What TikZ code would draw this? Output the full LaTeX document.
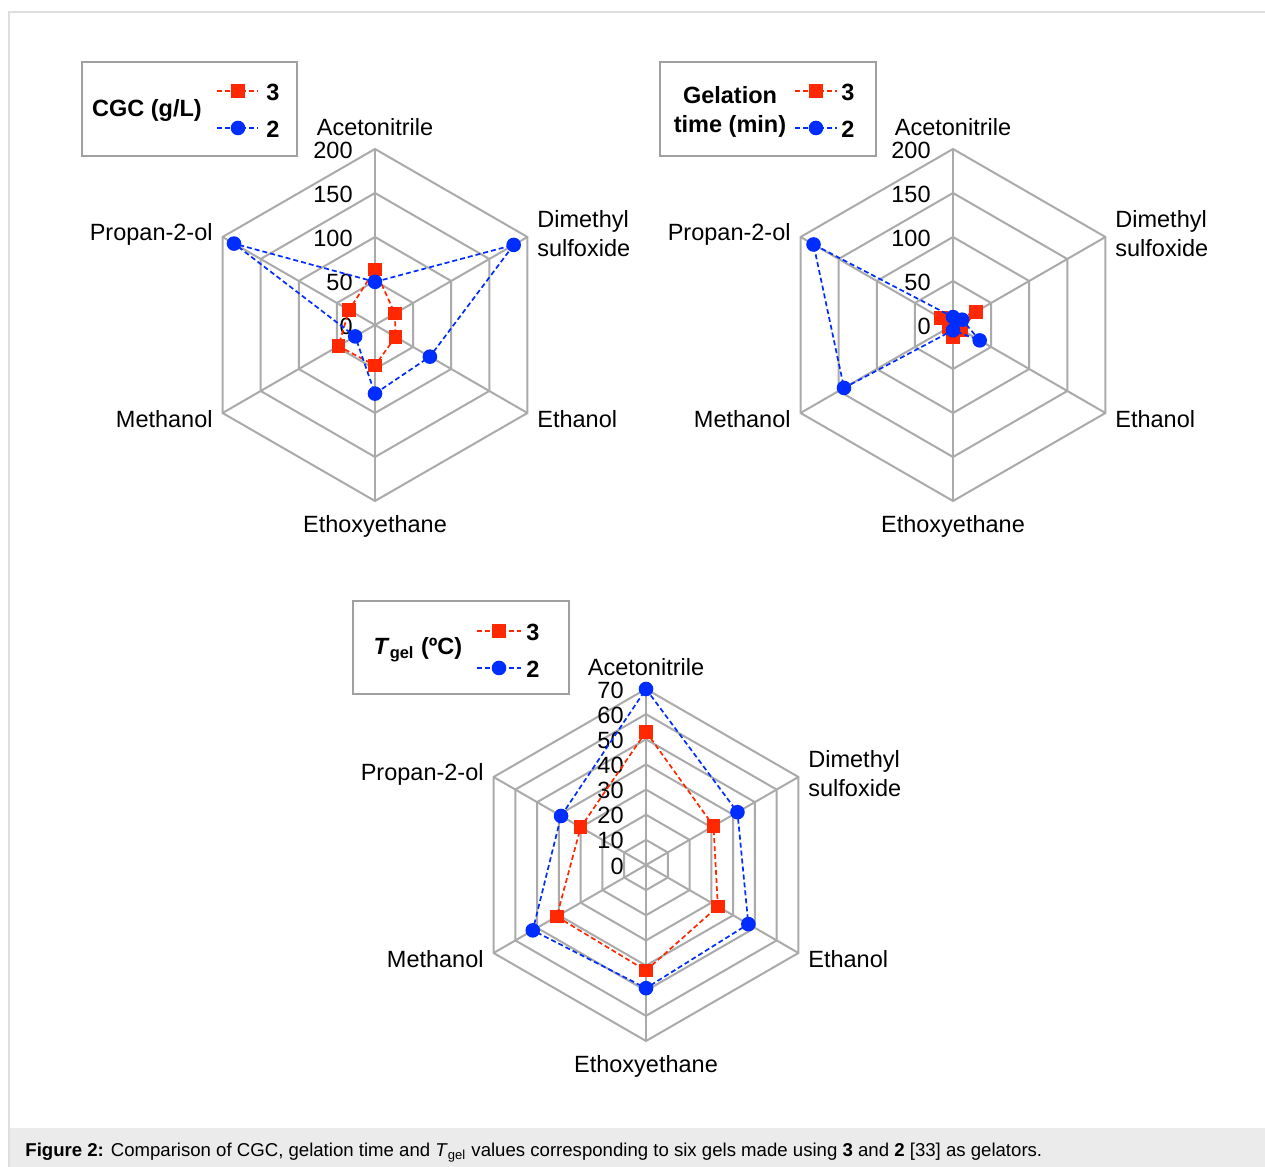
\documentclass[tikz,border=0pt]{standalone}
\usepackage{fontspec}
\setmainfont{Liberation Sans}
\usepackage{amsmath}
\usetikzlibrary{math}
\definecolor{gridgray}{RGB}{170,170,170}
\definecolor{boxgray}{RGB}{160,160,160}
\definecolor{framegray}{RGB}{222,222,222}
\definecolor{capgray}{RGB}{235,235,235}
\definecolor{serred}{RGB}{255,40,0}
\definecolor{serblue}{RGB}{0,45,255}

\begin{document}
\begin{tikzpicture}[x=0.5pt, y=0.5pt,
    every node/.style={font=\fontsize{11.75}{14.5}\selectfont},
    ringline/.style={draw=gridgray, line width=1pt},
    legbox/.style={draw=boxgray, line width=0.8pt},
    ticklab/.style={anchor=east, inner sep=0pt},
    solvent/.style={inner sep=0pt, align=left},
    legtitle/.style={inner sep=0pt, align=center, font=\fontsize{11.75}{14.5}\selectfont\bfseries},
    legnum/.style={inner sep=0pt, font=\fontsize{11.75}{14.5}\selectfont\bfseries},
    serthree/.style={draw=serred, line width=0.85pt, dash pattern=on 2.5pt off 1.5pt},
    sertwo/.style={draw=serblue, line width=0.85pt, dash pattern=on 2.5pt off 1.5pt},
    markthree/.style={rectangle, fill=serred, inner sep=0pt, minimum size=6.8pt},
    marktwo/.style={circle, fill=serblue, inner sep=0pt, minimum size=7.3pt}]
  \tikzmath{\R = 176; \scalea = \R/200; \scaleb = \R/70; \stepa = \R/4; \stepb = \R/7;}
  \useasboundingbox (0,0) rectangle (1265,1167);
  \fill[capgray] (9,0) rectangle (1265,39);
  \draw[framegray, line width=0.8pt] (9,0) -- (9,1155) -- (1265,1155);
  \node[anchor=west, inner sep=0pt, font=\fontsize{9.3}{11}\selectfont] (caption) at (25,14)
    {\textbf{Figure 2:} Comparison of CGC, gelation time and \textit{T}\textsubscript{gel} values corresponding to six gels made using \textbf{3} and \textbf{2} [33] as gelators.};

  \begin{scope}[shift={(375,842)}]
    \foreach \r in {1,...,4}
      \draw[ringline] (90:\r*\stepa) -- (30:\r*\stepa) -- (-30:\r*\stepa) -- (-90:\r*\stepa) -- (-150:\r*\stepa) -- (150:\r*\stepa) -- cycle;
    \foreach \a in {90,30,-30,-90,-150,150}
      \draw[ringline] (0,0) -- (\a:\R);
    \foreach \v [count=\i from 0] in {0,50,100,150,200}
      \node[ticklab] (cgc-t\i) at (-22,\i*\stepa-1) {\v};
    \node[solvent] (cgc-acn) at (0,198) {Acetonitrile};
    \node[solvent, anchor=west] (cgc-dmso) at (162,91) {Dimethyl\\sulfoxide};
    \node[solvent, anchor=west] (cgc-etoh) at (162,-94) {Ethanol};
    \node[solvent] (cgc-eth) at (0,-201) {Ethoxyethane};
    \node[solvent, anchor=east] (cgc-meoh) at (-162,-94) {Methanol};
    \node[solvent, anchor=east] (cgc-ipa) at (-162,91) {Propan-2-ol};
    \foreach \v [count=\i] in {63,26,27,46,48,34}
      \coordinate (cgc3-\i) at ({150-60*\i}:\v*\scalea);
    \foreach \v [count=\i] in {49,182,72,78,26,185}
      \coordinate (cgc2-\i) at ({150-60*\i}:\v*\scalea);
    \draw[serthree] (cgc3-1) -- (cgc3-2) -- (cgc3-3) -- (cgc3-4) -- (cgc3-5) -- (cgc3-6) -- cycle;
    \foreach \i in {1,...,6}
      \node[markthree] (cgc3m\i) at (cgc3-\i) {};
    \draw[sertwo] (cgc2-1) -- (cgc2-2) -- (cgc2-3) -- (cgc2-4) -- (cgc2-5) -- (cgc2-6) -- cycle;
    \foreach \i in {1,...,6}
      \node[marktwo] (cgc2m\i) at (cgc2-\i) {};
  \end{scope}

  \begin{scope}[shift={(953,842)}]
    \foreach \r in {1,...,4}
      \draw[ringline] (90:\r*\stepa) -- (30:\r*\stepa) -- (-30:\r*\stepa) -- (-90:\r*\stepa) -- (-150:\r*\stepa) -- (150:\r*\stepa) -- cycle;
    \foreach \a in {90,30,-30,-90,-150,150}
      \draw[ringline] (0,0) -- (\a:\R);
    \foreach \v [count=\i from 0] in {0,50,100,150,200}
      \node[ticklab] (gt-t\i) at (-22,\i*\stepa-1) {\v};
    \node[solvent] (gt-acn) at (0,198) {Acetonitrile};
    \node[solvent, anchor=west] (gt-dmso) at (162,91) {Dimethyl\\sulfoxide};
    \node[solvent, anchor=west] (gt-etoh) at (162,-94) {Ethanol};
    \node[solvent] (gt-eth) at (0,-201) {Ethoxyethane};
    \node[solvent, anchor=east] (gt-meoh) at (-162,-94) {Methanol};
    \node[solvent, anchor=east] (gt-ipa) at (-162,91) {Propan-2-ol};
    \foreach \v [count=\i] in {6,30,11,14,6,16}
      \coordinate (gt3-\i) at ({150-60*\i}:\v*\scalea);
    \foreach \v [count=\i] in {9,12,35,6,143,183}
      \coordinate (gt2-\i) at ({150-60*\i}:\v*\scalea);
    \draw[serthree] (gt3-1) -- (gt3-2) -- (gt3-3) -- (gt3-4) -- (gt3-5) -- (gt3-6) -- cycle;
    \foreach \i in {1,...,6}
      \node[markthree] (gt3m\i) at (gt3-\i) {};
    \draw[sertwo] (gt2-1) -- (gt2-2) -- (gt2-3) -- (gt2-4) -- (gt2-5) -- (gt2-6) -- cycle;
    \foreach \i in {1,...,6}
      \node[marktwo] (gt2m\i) at (gt2-\i) {};
  \end{scope}

  \begin{scope}[shift={(646,302)}]
    \foreach \r in {1,...,7}
      \draw[ringline] (90:\r*\stepb) -- (30:\r*\stepb) -- (-30:\r*\stepb) -- (-90:\r*\stepb) -- (-150:\r*\stepb) -- (150:\r*\stepb) -- cycle;
    \foreach \a in {90,30,-30,-90,-150,150}
      \draw[ringline] (0,0) -- (\a:\R);
    \foreach \v [count=\i from 0] in {0,10,20,30,40,50,60,70}
      \node[ticklab] (tg-t\i) at (-22,\i*\stepb-1) {\v};
    \node[solvent] (tg-acn) at (0,198) {Acetonitrile};
    \node[solvent, anchor=west] (tg-dmso) at (162,91) {Dimethyl\\sulfoxide};
    \node[solvent, anchor=west] (tg-etoh) at (162,-94) {Ethanol};
    \node[solvent] (tg-eth) at (0,-201) {Ethoxyethane};
    \node[solvent, anchor=east] (tg-meoh) at (-162,-94) {Methanol};
    \node[solvent, anchor=east] (tg-ipa) at (-162,91) {Propan-2-ol};
    \foreach \v [count=\i] in {53,31,33,42,41,30}
      \coordinate (tg3-\i) at ({150-60*\i}:\v*\scaleb);
    \foreach \v [count=\i] in {70,42,47,49,52,39}
      \coordinate (tg2-\i) at ({150-60*\i}:\v*\scaleb);
    \draw[serthree] (tg3-1) -- (tg3-2) -- (tg3-3) -- (tg3-4) -- (tg3-5) -- (tg3-6) -- cycle;
    \foreach \i in {1,...,6}
      \node[markthree] (tg3m\i) at (tg3-\i) {};
    \draw[sertwo] (tg2-1) -- (tg2-2) -- (tg2-3) -- (tg2-4) -- (tg2-5) -- (tg2-6) -- cycle;
    \foreach \i in {1,...,6}
      \node[marktwo] (tg2m\i) at (tg2-\i) {};
  \end{scope}

  \draw[legbox] (82,1105) rectangle (297,1011);
  \node[legtitle] (cgc-title) at (147,1057) {CGC (g/L)};
  \coordinate (cgc-l3a) at (217,1076); \coordinate (cgc-l3b) at (258,1076);
  \coordinate (cgc-l2a) at (217,1039); \coordinate (cgc-l2b) at (258,1039);
  \draw[serthree] (cgc-l3a) -- (cgc-l3b);
  \draw[sertwo] (cgc-l2a) -- (cgc-l2b);
  \node[markthree] (cgc-l3m) at (238,1076) {};
  \node[marktwo] (cgc-l2m) at (238,1039) {};
  \node[legnum] (cgc-n3) at (273,1075) {3};
  \node[legnum] (cgc-n2) at (273,1038) {2};

  \draw[legbox] (660,1105) rectangle (876,1011);
  \node[legtitle] (gt-title) at (730,1055) {Gelation\\time (min)};
  \coordinate (gt-l3a) at (795,1076); \coordinate (gt-l3b) at (837,1076);
  \coordinate (gt-l2a) at (795,1039); \coordinate (gt-l2b) at (837,1039);
  \draw[serthree] (gt-l3a) -- (gt-l3b);
  \draw[sertwo] (gt-l2a) -- (gt-l2b);
  \node[markthree] (gt-l3m) at (816,1076) {};
  \node[marktwo] (gt-l2m) at (816,1039) {};
  \node[legnum] (gt-n3) at (848,1075) {3};
  \node[legnum] (gt-n2) at (848,1038) {2};

  \draw[legbox] (353,566) rectangle (569,473);
  \node[legtitle] (tg-title) at (418,517) {\textit{T}\textsubscript{gel} (ºC)};
  \coordinate (tg-l3a) at (477,536); \coordinate (tg-l3b) at (521,536);
  \coordinate (tg-l2a) at (477,499); \coordinate (tg-l2b) at (521,499);
  \draw[serthree] (tg-l3a) -- (tg-l3b);
  \draw[sertwo] (tg-l2a) -- (tg-l2b);
  \node[markthree] (tg-l3m) at (499,536) {};
  \node[marktwo] (tg-l2m) at (499,499) {};
  \node[legnum] (tg-n3) at (533,535) {3};
  \node[legnum] (tg-n2) at (533,498) {2};
\end{tikzpicture}
\end{document}
